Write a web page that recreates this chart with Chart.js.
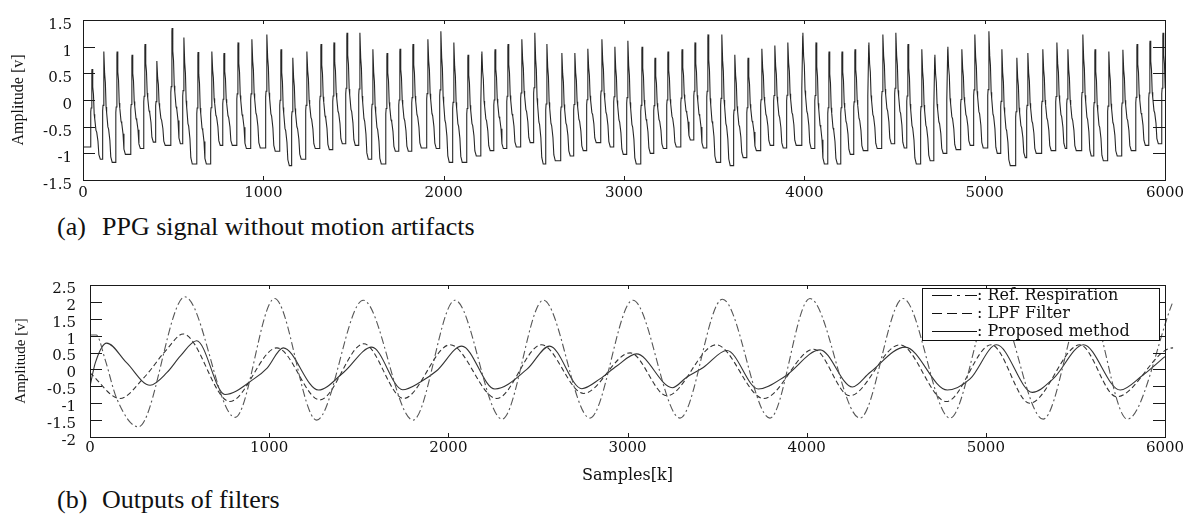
<!DOCTYPE html>
<html>
<head>
<meta charset="utf-8">
<script src="https://cdn.jsdelivr.net/npm/chart.js@4.4.1/dist/chart.umd.min.js"></script>
<style>
  body { margin: 0; background: #fff; }
  #wrap { position: relative; width: 1192px; height: 519px; overflow: hidden; }
  canvas { position: absolute; left: 0; }
  #ppg { top: 0; }
  #filt { top: 262px; }
  .cap { position: absolute; left: 57px; font: 26px "Liberation Serif", serif; line-height: 26px; color: #111; white-space: nowrap; }
  .cap span { display: inline-block; width: 45px; }
</style>
</head>
<body>
<div id="wrap">
  <canvas id="ppg" width="1192" height="205"></canvas>
  <div class="cap" style="top:214px"><span>(a)</span>PPG signal without motion artifacts</div>
  <canvas id="filt" width="1192" height="223"></canvas>
  <div class="cap" style="top:487px"><span>(b)</span>Outputs of filters</div>
</div>
<script>
// (a) PPG beats: sample of each peak, peak level, trough before it
const ppgPeakX = [50, 116, 189, 272, 344, 410, 494, 560, 638, 715,
  782, 860, 937, 1020, 1098, 1164, 1242, 1320, 1392, 1464,
  1536, 1608, 1686, 1758, 1830, 1913, 1985, 2057, 2135, 2212,
  2285, 2357, 2434, 2506, 2573, 2656, 2728, 2800, 2878, 2950,
  3022, 3100, 3172, 3244, 3322, 3394, 3466, 3543, 3615, 3688,
  3765, 3837, 3909, 3992, 4065, 4137, 4209, 4281, 4358, 4436,
  4508, 4575, 4652, 4724, 4796, 4874, 4946, 5024, 5096, 5179,
  5240, 5323, 5401, 5462, 5545, 5612, 5689, 5767, 5845, 5917, 5989];
const ppgPeak = [0.58, 0.91, 0.91, 0.85, 1.05, 0.73, 1.35, 1.17, 0.9, 0.91,
  0.88, 1.08, 1.14, 1.23, 0.95, 0.79, 0.91, 1.05, 1.08, 1.26,
  1.26, 0.95, 0.88, 0.96, 1.05, 1.14, 1.29, 1.08, 0.85, 0.91,
  0.95, 1.05, 1.14, 1.26, 1.05, 0.88, 0.88, 0.96, 1.14, 1.0,
  1.11, 1.0, 0.79, 0.91, 0.95, 1.08, 1.23, 1.23, 0.85, 0.79,
  0.96, 1.02, 1.08, 1.26, 1.08, 0.91, 0.91, 0.95, 1.08, 1.23,
  1.26, 1.05, 0.95, 0.85, 1.0, 0.95, 1.23, 1.29, 0.95, 0.79,
  0.88, 0.95, 1.08, 0.95, 1.23, 0.95, 0.91, 0.94, 1.05, 1.11, 1.26];
const ppgTrough = [-0.88, -1.11, -1.17, -1.02, -0.91, -0.79, -0.85, -0.82, -1.2, -1.2,
  -0.85, -0.85, -0.91, -0.9, -0.96, -1.23, -1.11, -0.91, -0.93, -0.82,
  -0.85, -1.11, -1.2, -0.96, -0.96, -0.9, -0.91, -1.17, -1.17, -1.05,
  -0.95, -0.91, -0.88, -0.8, -1.2, -1.14, -1.05, -0.95, -0.8, -0.88,
  -1.02, -1.2, -1.0, -0.91, -0.88, -0.75, -0.9, -1.17, -1.23, -1.08,
  -0.95, -0.85, -0.9, -0.85, -0.91, -1.2, -1.2, -1.02, -0.95, -0.91,
  -0.82, -0.9, -1.2, -1.14, -1.0, -0.93, -0.85, -0.9, -1.0, -1.23,
  -1.08, -1.0, -0.95, -0.91, -0.95, -1.05, -1.14, -1.05, -0.95, -0.85, -0.82];
// one beat as traced: offset from the peak (samples), level between trough (0) and peak (1)
const beatDt = [-10, -7, -5, -1, 0, 4, 8, 12, 15, 22, 26, 33, 38, 46];
const beatLv = [0, 0.45, 0.5, 0.97, 1, 0.8, 0.72, 0.5, 0.45, 0.32, 0.3, 0.2, 0.05, 0];

// (b) filter outputs, [sample, amplitude]
const refResp = [[0, 1.02], [35, 1.02], [84, 0.3], [149, -0.86], [270, -1.7], [530, 2.15],
  [810, -1.42], [1030, 2.1], [1265, -1.5], [1525, 2.05], [1803, -1.5], [2037, 2.05],
  [2300, -1.47], [2530, 2.05], [2790, -1.44], [3030, 2.05], [3293, -1.44], [3530, 2.08],
  [3795, -1.44], [4018, 2.1], [4297, -1.44], [4538, 2.1], [4800, -1.44], [5045, 2.1],
  [5320, -1.47], [5560, 2.1], [5790, -1.47], [6040, 1.95]];
const lpf = [[0, -0.1], [167, -0.86], [300, -0.25], [428, 0.59], [520, 1.05], [780, -0.95],
  [1043, 0.64], [1283, -0.9], [1528, 0.76], [1750, -0.86], [2010, 0.73], [2270, -0.86],
  [2520, 0.73], [2755, -0.71], [3015, 0.49], [3220, -0.78], [3495, 0.73], [3760, -0.86],
  [4040, 0.6], [4240, -0.78], [4520, 0.73], [4780, -0.95], [5030, 0.73], [5245, -1.0],
  [5525, 0.73], [5730, -0.81], [6045, 0.64], [6100, 0.45]];
const proposed = [[0, -0.5], [30, 0.2], [93, 0.78], [204, 0.2], [335, -0.47], [430, -0.09],
  [505, 0.4], [595, 0.85], [753, -0.74], [915, -0.28], [990, 0.05], [1078, 0.64],
  [1275, -0.61], [1415, -0.09], [1573, 0.66], [1745, -0.6], [1842, -0.38], [1935, -0.04],
  [2075, 0.69], [2260, -0.58], [2438, 0.0], [2565, 0.69], [2745, -0.57], [2846, -0.28],
  [2940, 0.1], [3050, 0.46], [3250, -0.54], [3330, -0.23], [3423, 0.06], [3555, 0.56],
  [3730, -0.58], [3880, -0.2], [4075, 0.58], [4255, -0.52], [4353, -0.09], [4550, 0.66],
  [4785, -0.61], [4912, -0.28], [5060, 0.73], [5260, -0.68], [5375, -0.28], [5545, 0.73],
  [5750, -0.61], [5874, -0.18], [6000, 0.38], [6040, 0.55]];

const xTicks = [0, 1000, 2000, 3000, 4000, 5000, 6000];

// build the PPG trace from the beats
const ppgPoints = [{ x: 0, y: ppgTrough[0] }];
ppgPeakX.forEach((px, k) => {
  const P = ppgPeak[k];
  const T0 = ppgTrough[k];
  const T1 = k + 1 < ppgTrough.length ? ppgTrough[k + 1] : T0;
  beatDt.forEach((dt, i) => {
    const base = dt <= 0 ? T0 : T1;
    ppgPoints.push({ x: px + dt, y: base + beatLv[i] * (P - base) });
  });
});

const toXY = arr => arr.map(p => ({ x: p[0], y: p[1] }));

// box round the plot with inward ticks on all four sides
const frame = {
  id: 'frame',
  afterDraw(chart, args, o) {
    const { ctx, chartArea: a, scales: { x, y } } = chart;
    ctx.save();
    ctx.strokeStyle = '#1a1a1a';
    ctx.lineWidth = 1;
    ctx.strokeRect(Math.round(a.left) + 0.5, Math.round(a.top) + 0.5,
      Math.round(a.right - a.left), Math.round(a.bottom - a.top));
    ctx.beginPath();
    y.ticks.forEach(t => {
      const py = Math.round(y.getPixelForValue(t.value)) + 0.5;
      ctx.moveTo(a.left, py); ctx.lineTo(a.left + o.yLen, py);
      ctx.moveTo(a.right, py); ctx.lineTo(a.right - o.yLen, py);
    });
    x.ticks.forEach(t => {
      const px = Math.round(x.getPixelForValue(t.value)) + 0.5;
      ctx.moveTo(px, a.bottom); ctx.lineTo(px, a.bottom - o.xLen);
      ctx.moveTo(px, a.top); ctx.lineTo(px, a.top + o.xLen);
    });
    ctx.stroke();
    ctx.restore();
  }
};

// legend in a white box, as in the paper
const boxLegend = {
  id: 'boxLegend',
  afterDraw(chart, args, o) {
    if (!o.show) return;
    const { ctx } = chart;
    ctx.save();
    ctx.fillStyle = '#fff';
    ctx.fillRect(o.x, o.y, o.w, o.h);
    ctx.strokeStyle = '#111';
    ctx.lineWidth = 1;
    ctx.strokeRect(o.x + 0.5, o.y + 0.5, o.w, o.h);
    ctx.font = '16px "DejaVu Serif"';
    ctx.textBaseline = 'middle';
    ctx.fillStyle = '#111';
    chart.data.datasets.forEach((ds, i) => {
      const yy = Math.round(o.y + o.rowTop + i * o.rowGap) + 0.5;
      ctx.setLineDash(o.dashes[i]);
      ctx.beginPath();
      ctx.moveTo(o.x + 10, yy);
      ctx.lineTo(o.x + 55, yy);
      ctx.stroke();
      ctx.setLineDash([]);
      ctx.fillText(': ' + ds.label, o.x + 55, yy);
    });
    ctx.restore();
  }
};

const tickFont = { family: 'DejaVu Serif', size: 15 };
const fmt = v => String(Math.round(v * 10) / 10);

function xAxis(height, pad) {
  return {
    type: 'linear', min: 0, max: 6000,
    afterFit: s => { s.height = height; },
    afterBuildTicks: s => { s.ticks = xTicks.map(v => ({ value: v })); },
    grid: { display: false, drawTicks: false },
    border: { display: false },
    ticks: { padding: pad, font: tickFont, color: '#111', maxRotation: 0, autoSkip: false, callback: fmt }
  };
}

function yAxis(min, max, width, pad, off, titleSize, titlePad) {
  return {
    min: min, max: max,
    afterFit: s => { s.width = width; },
    grid: { display: false, drawTicks: false },
    border: { display: false },
    ticks: { stepSize: 0.5, padding: pad, labelOffset: off, autoSkip: false, font: tickFont, color: '#111', callback: fmt },
    title: {
      display: true, text: 'Amplitude [v]', color: '#111',
      font: { family: 'Liberation Serif', size: titleSize }, padding: { top: titlePad }
    }
  };
}

new Chart(document.getElementById('ppg'), {
  type: 'line',
  data: {
    datasets: [{
      label: 'PPG',
      data: ppgPoints,
      borderColor: '#262626',
      borderWidth: 1.1,
      pointRadius: 0,
      tension: 0
    }]
  },
  options: {
    responsive: false,
    animation: false,
    events: [],
    layout: { padding: { top: 9.5, right: 27, left: 0, bottom: 0 } },
    plugins: {
      legend: { display: false },
      tooltip: { enabled: false },
      frame: { xLen: 4, yLen: 12 },
      boxLegend: { show: false }
    },
    scales: {
      x: xAxis(25, 4),
      y: yAxis(-1.5, 1.5, 83, 11, 5, 16, 9)
    }
  },
  plugins: [frame, boxLegend]
});

new Chart(document.getElementById('filt'), {
  type: 'line',
  data: {
    datasets: [{
      label: 'Ref. Respiration',
      data: toXY(refResp),
      borderColor: '#555',
      borderWidth: 1.1,
      borderDash: [8, 3, 2, 3],
      cubicInterpolationMode: 'monotone',
      pointRadius: 0,
      clip: { left: 0, top: 0, right: 12, bottom: 0 }
    }, {
      label: 'LPF Filter',
      data: toXY(lpf),
      borderColor: '#333',
      borderWidth: 1.1,
      borderDash: [5, 3],
      cubicInterpolationMode: 'monotone',
      pointRadius: 0,
      clip: { left: 0, top: 0, right: 20, bottom: 0 }
    }, {
      label: 'Proposed method',
      data: toXY(proposed),
      borderColor: '#333',
      borderWidth: 1.1,
      cubicInterpolationMode: 'monotone',
      pointRadius: 0,
      clip: { left: 0, top: 0, right: 12, bottom: 0 }
    }]
  },
  options: {
    responsive: false,
    animation: false,
    events: [],
    layout: { padding: { top: 20.5, right: 27, left: 0, bottom: 0 } },
    plugins: {
      legend: { display: false },
      tooltip: { enabled: false },
      frame: { xLen: 4, yLen: 12 },
      boxLegend: {
        show: true, x: 922, y: 26, w: 237, h: 52, rowTop: 7, rowGap: 18,
        dashes: [[20, 5, 3, 5], [10, 5], []]
      }
    },
    scales: {
      x: Object.assign(xAxis(48, 2), {
        title: {
          display: true, text: 'Samples[k]', color: '#111',
          font: { family: 'DejaVu Serif', size: 16 }, padding: { top: 0, bottom: 0 }
        }
      }),
      y: yAxis(-2, 2.5, 90, 14, 4, 15, 12)
    }
  },
  plugins: [frame, boxLegend]
});
</script>
</body>
</html>
